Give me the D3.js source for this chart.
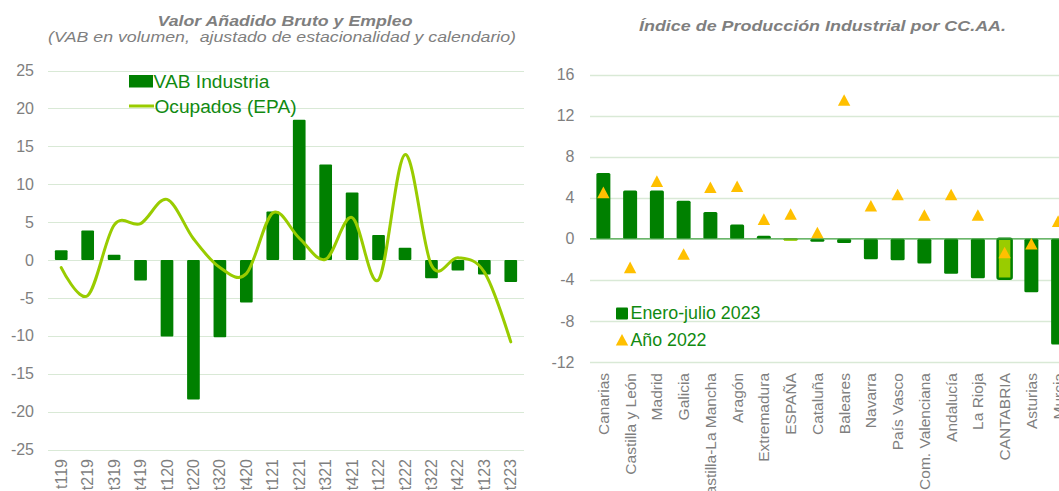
<!DOCTYPE html>
<html>
<head>
<meta charset="utf-8">
<script src="https://cdn.jsdelivr.net/npm/d3@7"></script>
<style>
  html, body { margin: 0; padding: 0; background: #fff; overflow: hidden; }
  svg { display: block; font-family: "Liberation Sans", Arial, sans-serif; }
</style>
</head>
<body>
<svg id="chart" width="1059" height="491"></svg>
<script>
// ---------- Left chart data ----------
const quarters = ["t119","t219","t319","t419","t120","t220","t320","t420","t121","t221","t321","t421","t122","t222","t322","t422","t123","t223"];
const vabIndustria = [1.3, 3.9, 0.7, -2.7, -10.1, -18.4, -10.2, -5.6, 6.4, 18.5, 12.6, 8.9, 3.3, 1.6, -2.4, -1.4, -1.9, -2.9];
const ocupadosEPA = [-1.0, -4.7, 4.6, 4.8, 8.0, 2.8, -1.0, -1.8, 6.2, 2.9, 0.1, 5.6, -2.6, 13.9, -0.7, 0.3, -1.6, -10.8];
const leftTicks = [25, 20, 15, 10, 5, 0, -5, -10, -15, -20, -25];

// ---------- Right chart data ----------
const regions = ["Canarias","Castilla y León","Madrid","Galicia","Castilla-La Mancha","Aragón","Extremadura","ESPAÑA","Cataluña","Baleares","Navarra","País Vasco","Com. Valenciana","Andalucía","La Rioja","CANTABRIA","Asturias","Murcia"];
const eneroJulio2023 = [6.4, 4.7, 4.7, 3.7, 2.6, 1.4, 0.3, -0.15, -0.3, -0.4, -2.0, -2.1, -2.4, -3.4, -3.85, -3.9, -5.2, -10.3];
const ano2022 = [4.5, -2.8, 5.6, -1.5, 5.0, 5.1, 1.9, 2.4, 0.6, 13.5, 3.2, 4.3, 2.3, 4.3, 2.3, -1.35, -0.5, 1.7];
const rightTicks = [16, 12, 8, 4, 0, -4, -8, -12];
const highlighted = ["ESPAÑA", "CANTABRIA"];

const DARK = "#008000", LIGHT = "#99cc00", ORANGE = "#ffc000";
const GRID = "#d9e9d6", TXT = "#7f7f7f", LEG = "#118a11";

const svg = d3.select("#chart");
svg.append("rect").attr("width", 1059).attr("height", 491).attr("fill", "#fff");

// ================= LEFT CHART =================
const L = svg.append("g");
const xL = d3.scaleBand().domain(quarters).range([48, 524]).paddingInner(0.52).paddingOuter(0.26);
const yL = d3.scaleLinear().domain([-25, 25]).range([449.5, 70.5]);

L.append("g").selectAll("line").data(leftTicks).join("line")
  .attr("x1", 48).attr("x2", 524)
  .attr("y1", d => Math.round(yL(d)) + 0.5).attr("y2", d => Math.round(yL(d)) + 0.5)
  .attr("stroke", GRID).attr("stroke-width", 1);

L.append("g").selectAll("text").data(leftTicks).join("text")
  .attr("x", 34).attr("y", d => yL(d)).attr("dy", "0.35em")
  .attr("text-anchor", "end").attr("font-size", 16).attr("fill", TXT)
  .text(d => d);

L.append("g").selectAll("rect").data(quarters).join("rect")
  .attr("x", d => xL(d)).attr("width", xL.bandwidth())
  .attr("y", (d, i) => yL(Math.max(0, vabIndustria[i])))
  .attr("height", (d, i) => Math.abs(yL(vabIndustria[i]) - yL(0)))
  .attr("fill", DARK).attr("rx", 1);

const lineGen = d3.line()
  .x((d, i) => xL(quarters[i]) + xL.bandwidth() / 2)
  .y(d => yL(d))
  .curve(d3.curveCardinal.tension(0));
L.append("path").datum(ocupadosEPA).attr("d", lineGen)
  .attr("fill", "none").attr("stroke", LIGHT).attr("stroke-width", 3)
  .attr("stroke-linecap", "round");

L.append("g").selectAll("text").data(quarters).join("text")
  .attr("transform", d => `translate(${xL(d) + xL.bandwidth() / 2},459) rotate(-90)`)
  .attr("dy", "0.35em").attr("text-anchor", "end")
  .attr("font-size", 16).attr("fill", TXT).text(d => d);

// legend
L.append("rect").attr("x", 129).attr("y", 75).attr("width", 24).attr("height", 12.5).attr("fill", DARK);
L.append("text").attr("x", 153.5).attr("y", 87.5).attr("font-size", 17.5).attr("fill", LEG)
  .attr("textLength", 116).attr("lengthAdjust", "spacingAndGlyphs").text("VAB Industria");
L.append("line").attr("x1", 129).attr("x2", 154).attr("y1", 106).attr("y2", 106)
  .attr("stroke", LIGHT).attr("stroke-width", 3);
L.append("text").attr("x", 154.5).attr("y", 112.5).attr("font-size", 17.5).attr("fill", LEG)
  .attr("textLength", 142).attr("lengthAdjust", "spacingAndGlyphs").text("Ocupados (EPA)");

// titles
L.append("text").attr("x", 285).attr("y", 26).attr("text-anchor", "middle")
  .attr("font-size", 14.5).attr("font-weight", "bold").attr("font-style", "italic").attr("fill", TXT)
  .attr("textLength", 255).attr("lengthAdjust", "spacingAndGlyphs")
  .text("Valor Añadido Bruto y Empleo");
L.append("text").attr("x", 282).attr("y", 41.5).attr("text-anchor", "middle")
  .attr("font-size", 14.5).attr("font-style", "italic").attr("fill", TXT)
  .attr("textLength", 468).attr("lengthAdjust", "spacingAndGlyphs")
  .attr("xml:space", "preserve")
  .text("(VAB en volumen,  ajustado de estacionalidad y calendario)");

// ================= RIGHT CHART =================
const R = svg.append("g");
const xR = d3.scaleBand().domain(regions).range([590, 590 + 18 * 26.75]).paddingInner(0.477).paddingOuter(0.2385);
const yR = d3.scaleLinear().domain([-12, 16]).range([362, 74.5]);

R.append("g").selectAll("line").data(rightTicks.filter(d => d !== 0)).join("line")
  .attr("x1", 590).attr("x2", 1080)
  .attr("y1", d => Math.round(yR(d)) + 0.5).attr("y2", d => Math.round(yR(d)) + 0.5)
  .attr("stroke", GRID).attr("stroke-width", 1.3);

R.append("g").selectAll("text").data(rightTicks).join("text")
  .attr("x", 574.5).attr("y", d => yR(d)).attr("dy", "0.35em")
  .attr("text-anchor", "end").attr("font-size", 16).attr("fill", TXT)
  .text(d => d);

R.append("g").selectAll("rect").data(regions).join("rect")
  .attr("x", d => xR(d)).attr("width", xR.bandwidth())
  .attr("y", (d, i) => yR(Math.max(0, eneroJulio2023[i])))
  .attr("height", (d, i) => Math.abs(yR(eneroJulio2023[i]) - yR(0)))
  .attr("fill", d => highlighted.includes(d) ? LIGHT : DARK)
  .attr("stroke", d => d === "CANTABRIA" ? DARK : (d === "ESPAÑA" ? LIGHT : "none"))
  .attr("stroke-width", d => d === "CANTABRIA" ? 2.5 : 1)
  .attr("rx", 1.5);

// zero axis line
R.append("line").attr("x1", 590).attr("x2", 1080).attr("y1", yR(0)).attr("y2", yR(0))
  .attr("stroke", "#3a9e3a").attr("stroke-width", 1.3);

const tri = (cx, cy) => `M${cx - 6.2},${cy + 5.6}L${cx + 6.2},${cy + 5.6}L${cx},${cy - 6}Z`;
R.append("g").selectAll("path").data(regions).join("path")
  .attr("d", (d, i) => tri(xR(d) + xR.bandwidth() / 2, yR(ano2022[i])))
  .attr("fill", ORANGE);

R.append("g").selectAll("text").data(regions).join("text")
  .attr("transform", d => `translate(${xR(d) + xR.bandwidth() / 2},373) rotate(-90)`)
  .attr("dy", "0.35em").attr("text-anchor", "end")
  .attr("font-size", 15.5).attr("fill", TXT).text(d => d);

// legend
R.append("rect").attr("x", 616).attr("y", 307.5).attr("width", 12).attr("height", 12).attr("fill", DARK).attr("rx", 1);
R.append("text").attr("x", 630.5).attr("y", 319.3).attr("font-size", 17.5).attr("fill", LEG)
  .attr("textLength", 130).attr("lengthAdjust", "spacingAndGlyphs").text("Enero-julio 2023");
R.append("path").attr("d", tri(622, 340)).attr("fill", ORANGE);
R.append("text").attr("x", 630.5).attr("y", 346.3).attr("font-size", 17.5).attr("fill", LEG)
  .attr("textLength", 76).attr("lengthAdjust", "spacingAndGlyphs").text("Año 2022");

R.append("text").attr("x", 822.5).attr("y", 30.5).attr("text-anchor", "middle")
  .attr("font-size", 15).attr("font-weight", "bold").attr("font-style", "italic").attr("fill", TXT)
  .attr("textLength", 367).attr("lengthAdjust", "spacingAndGlyphs")
  .text("Índice de Producción Industrial por CC.AA.");
</script>
</body>
</html>
